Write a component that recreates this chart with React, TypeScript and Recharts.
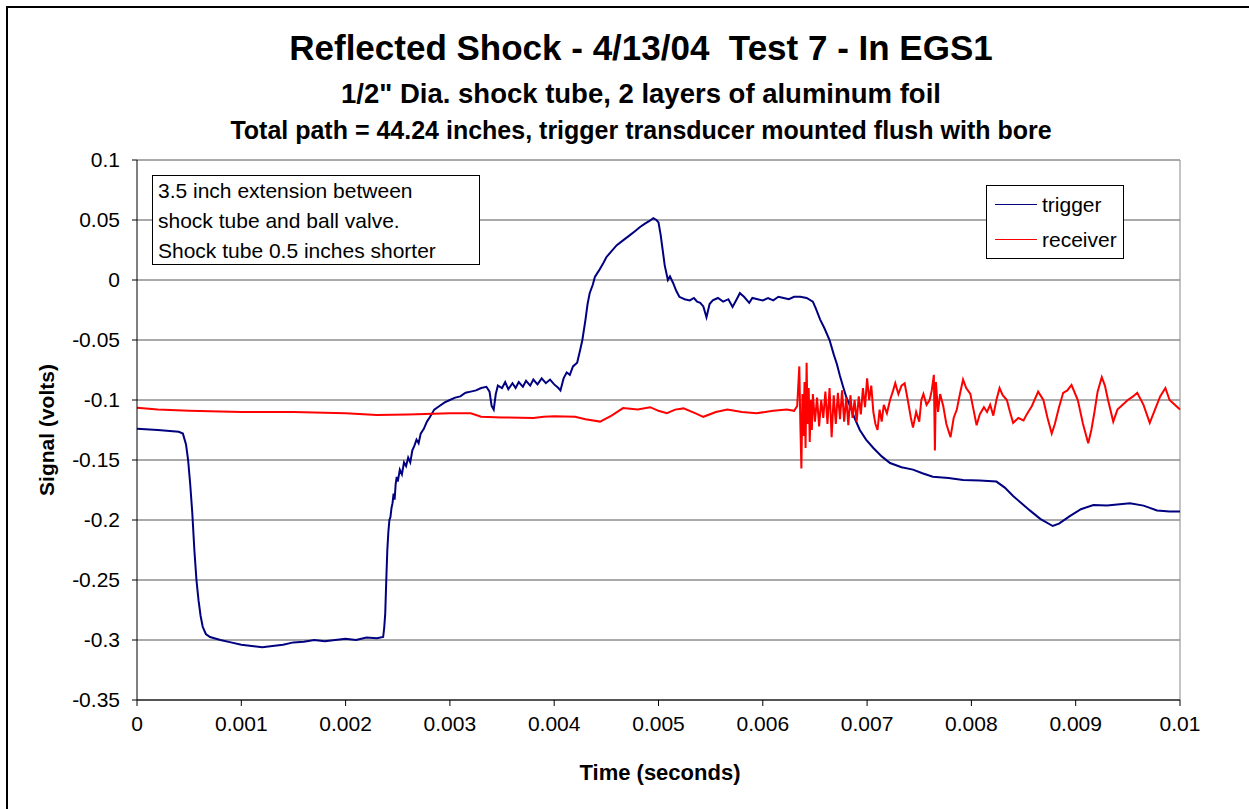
import React from 'react';
import { LineChart, Line, XAxis, YAxis, CartesianGrid, ReferenceLine } from 'recharts';

// [time (s), signal (V)]
const triggerPoints: [number, number][] = [
  [0, -0.124], [0.0002, -0.125], [0.0004, -0.1265], [0.00044, -0.128], [0.00047, -0.137],
  [0.00049, -0.15], [0.00051, -0.17], [0.00053, -0.194], [0.00055, -0.225], [0.00057, -0.25],
  [0.00059, -0.267], [0.00061, -0.28], [0.00063, -0.289], [0.00066, -0.295], [0.0007, -0.2975],
  [0.0008, -0.3], [0.0009, -0.302], [0.001, -0.304], [0.0011, -0.305], [0.0012, -0.306],
  [0.0013, -0.305], [0.0014, -0.304], [0.0015, -0.302], [0.0016, -0.3015], [0.0017, -0.3],
  [0.0018, -0.301], [0.0019, -0.3], [0.002, -0.299], [0.0021, -0.3], [0.0022, -0.298],
  [0.0023, -0.2985], [0.00236, -0.2975], [0.00237, -0.29], [0.00238, -0.278], [0.00239, -0.25],
  [0.0024, -0.225], [0.00241, -0.21], [0.00242, -0.2], [0.00243, -0.1975], [0.00244, -0.19],
  [0.00245, -0.186], [0.00246, -0.178], [0.00247, -0.183], [0.00248, -0.17], [0.00249, -0.164],
  [0.0025, -0.168], [0.00252, -0.158], [0.00254, -0.162], [0.00256, -0.152], [0.00258, -0.155],
  [0.0026, -0.148], [0.00262, -0.152], [0.00264, -0.142], [0.00266, -0.138], [0.00268, -0.133],
  [0.0027, -0.136], [0.00272, -0.128], [0.00275, -0.124], [0.00278, -0.118], [0.00281, -0.114],
  [0.00285, -0.108], [0.0029, -0.105], [0.00295, -0.102], [0.003, -0.1], [0.00305, -0.098],
  [0.0031, -0.097], [0.00315, -0.094], [0.0032, -0.093], [0.00325, -0.092], [0.0033, -0.09],
  [0.00335, -0.089], [0.00338, -0.093], [0.0034, -0.105], [0.00342, -0.108], [0.00344, -0.095],
  [0.00346, -0.088], [0.0035, -0.09], [0.00353, -0.085], [0.00356, -0.091], [0.0036, -0.086],
  [0.00363, -0.09], [0.00366, -0.085], [0.0037, -0.089], [0.00373, -0.084], [0.00377, -0.088],
  [0.0038, -0.083], [0.00384, -0.087], [0.00388, -0.082], [0.00392, -0.086], [0.00396, -0.083],
  [0.004, -0.087], [0.00404, -0.09], [0.00406, -0.092], [0.00409, -0.082], [0.00412, -0.077],
  [0.00415, -0.079], [0.00418, -0.072], [0.00422, -0.069], [0.00425, -0.058], [0.00427, -0.05],
  [0.0043, -0.033], [0.00432, -0.02], [0.00434, -0.011], [0.00437, -0.004], [0.00439, 0.0025],
  [0.00443, 0.008], [0.00447, 0.014], [0.0045, 0.019], [0.00455, 0.024], [0.0046, 0.029],
  [0.00466, 0.033], [0.00472, 0.037], [0.00478, 0.041], [0.00482, 0.044], [0.00487, 0.047],
  [0.00491, 0.049], [0.00495, 0.0515], [0.00498, 0.05], [0.005, 0.048], [0.00502, 0.038],
  [0.00504, 0.025], [0.00506, 0.012], [0.00509, 0], [0.00511, 0.003], [0.00514, -0.0025],
  [0.00517, -0.009], [0.0052, -0.014], [0.00525, -0.016], [0.0053, -0.017], [0.00534, -0.015],
  [0.00537, -0.018], [0.0054, -0.019], [0.00543, -0.022], [0.00546, -0.031], [0.00549, -0.02],
  [0.00552, -0.017], [0.00557, -0.015], [0.00562, -0.018], [0.00567, -0.016], [0.00571, -0.0225],
  [0.00575, -0.016], [0.00578, -0.011], [0.00582, -0.014], [0.00587, -0.019], [0.0059, -0.015],
  [0.00595, -0.016], [0.006, -0.017], [0.00605, -0.015], [0.0061, -0.017], [0.00615, -0.014],
  [0.0062, -0.015], [0.00625, -0.016], [0.0063, -0.014], [0.00636, -0.014], [0.00642, -0.015],
  [0.00648, -0.018], [0.00651, -0.024], [0.00655, -0.033], [0.00659, -0.04], [0.00664, -0.05],
  [0.00668, -0.062], [0.00671, -0.07], [0.00674, -0.08], [0.00677, -0.089], [0.0068, -0.0975],
  [0.00684, -0.106], [0.00688, -0.115], [0.00693, -0.125], [0.00699, -0.133], [0.00706, -0.14],
  [0.00714, -0.147], [0.00722, -0.1525], [0.00733, -0.156], [0.00744, -0.158], [0.00753, -0.161],
  [0.00763, -0.164], [0.00778, -0.165], [0.00792, -0.1667], [0.00808, -0.167], [0.00824, -0.168],
  [0.00832, -0.173], [0.0084, -0.18], [0.00848, -0.186], [0.00856, -0.192], [0.00866, -0.199],
  [0.00878, -0.205], [0.00884, -0.203], [0.00894, -0.197], [0.00905, -0.191], [0.00917, -0.1875],
  [0.0093, -0.188], [0.00952, -0.186], [0.00965, -0.188], [0.00978, -0.192], [0.0099, -0.193],
  [0.01, -0.193],
];

const receiverPoints: [number, number][] = [
  [0, -0.1065], [0.0002, -0.108], [0.0005, -0.109], [0.0008, -0.1095], [0.001, -0.11],
  [0.0015, -0.11], [0.002, -0.111], [0.0023, -0.1125], [0.0026, -0.112], [0.003, -0.111],
  [0.0032, -0.111], [0.0033, -0.114], [0.0035, -0.1145], [0.0038, -0.115], [0.0039, -0.114],
  [0.004, -0.1135], [0.0042, -0.114], [0.0043, -0.116], [0.00444, -0.118], [0.00455, -0.113],
  [0.00466, -0.1067], [0.0048, -0.108], [0.00492, -0.106], [0.005, -0.109], [0.00508, -0.111],
  [0.00516, -0.108], [0.00524, -0.107], [0.00535, -0.111], [0.00543, -0.114], [0.00555, -0.11],
  [0.00566, -0.108], [0.0058, -0.11], [0.00594, -0.111], [0.0061, -0.109], [0.00623, -0.108],
  [0.0063, -0.109], [0.00633, -0.105], [0.00635, -0.072], [0.00636, -0.12], [0.00637, -0.157],
  [0.00638, -0.095], [0.00639, -0.13], [0.0064, -0.085], [0.00641, -0.14], [0.00642, -0.069],
  [0.00643, -0.12], [0.00644, -0.09], [0.00645, -0.135], [0.00646, -0.1], [0.00647, -0.125],
  [0.00648, -0.095], [0.0065, -0.118], [0.00652, -0.098], [0.00654, -0.122], [0.00656, -0.1],
  [0.00658, -0.115], [0.0066, -0.093], [0.00662, -0.12], [0.00664, -0.09], [0.00666, -0.131],
  [0.00668, -0.096], [0.0067, -0.12], [0.00672, -0.094], [0.00674, -0.116], [0.00676, -0.092],
  [0.00678, -0.118], [0.0068, -0.098], [0.00682, -0.121], [0.00684, -0.096], [0.00686, -0.115],
  [0.00688, -0.1], [0.0069, -0.118], [0.00692, -0.097], [0.00694, -0.112], [0.00696, -0.09],
  [0.00698, -0.106], [0.007, -0.082], [0.00702, -0.1], [0.00704, -0.088], [0.00706, -0.11],
  [0.00708, -0.12], [0.0071, -0.125], [0.00712, -0.108], [0.00714, -0.118], [0.00716, -0.104],
  [0.00719, -0.111], [0.00722, -0.1], [0.00725, -0.092], [0.00727, -0.086], [0.0073, -0.095],
  [0.00733, -0.088], [0.00736, -0.086], [0.00739, -0.1], [0.00742, -0.115], [0.00744, -0.123],
  [0.00747, -0.11], [0.0075, -0.118], [0.00752, -0.1], [0.00754, -0.095], [0.00757, -0.104],
  [0.0076, -0.1], [0.00762, -0.092], [0.00764, -0.079], [0.00765, -0.142], [0.00766, -0.085],
  [0.00768, -0.11], [0.0077, -0.095], [0.00773, -0.105], [0.00776, -0.12], [0.0078, -0.131],
  [0.00783, -0.115], [0.00786, -0.108], [0.00789, -0.095], [0.00792, -0.083], [0.00795, -0.09],
  [0.00799, -0.095], [0.00802, -0.108], [0.00805, -0.121], [0.00808, -0.112], [0.00812, -0.106],
  [0.00815, -0.11], [0.00818, -0.104], [0.00821, -0.113], [0.00824, -0.1], [0.00827, -0.09],
  [0.0083, -0.096], [0.00834, -0.1], [0.00837, -0.11], [0.0084, -0.119], [0.00845, -0.115],
  [0.0085, -0.117], [0.00853, -0.112], [0.00858, -0.105], [0.00864, -0.093], [0.00869, -0.1],
  [0.00873, -0.115], [0.00877, -0.128], [0.0088, -0.12], [0.00884, -0.106], [0.00888, -0.094],
  [0.00892, -0.092], [0.00896, -0.0875], [0.00902, -0.1], [0.00907, -0.12], [0.00912, -0.136],
  [0.00915, -0.125], [0.00918, -0.11], [0.00921, -0.093], [0.00925, -0.081], [0.00928, -0.088],
  [0.00931, -0.1], [0.00936, -0.118], [0.0094, -0.108], [0.00945, -0.104], [0.0095, -0.1],
  [0.00955, -0.097], [0.00959, -0.094], [0.00965, -0.104], [0.00971, -0.119], [0.00976, -0.108],
  [0.00981, -0.097], [0.00986, -0.09], [0.0099, -0.1], [0.00995, -0.104], [0.01, -0.108],
];

const xTicks = [0, 0.001, 0.002, 0.003, 0.004, 0.005, 0.006, 0.007, 0.008, 0.009, 0.01];
const yTicks = [0.1, 0.05, 0, -0.05, -0.1, -0.15, -0.2, -0.25, -0.3, -0.35];

const titleLines = [
  'Reflected Shock - 4/13/04  Test 7 - In EGS1',
  '1/2" Dia. shock tube, 2 layers of aluminum foil',
  'Total path = 44.24 inches, trigger transducer mounted flush with bore',
];
const noteLines = [
  '3.5 inch extension between',
  'shock tube and ball valve.',
  'Shock tube 0.5 inches shorter',
];
const seriesNames = ['trigger', 'receiver'];

const FONT = '"Liberation Sans", Arial, sans-serif';
const TRIGGER = '#000080';
const RECEIVER = '#ff0000';

const toRows = (pts: [number, number][]) => pts.map(([t, v]) => ({ t, v }));

const titleStyle = [
  { top: 30, fontSize: 35 },
  { top: 76, fontSize: 27.5 },
  { top: 112, fontSize: 25 },
];

export default function App() {
  const trigger = toRows(triggerPoints);
  const receiver = toRows(receiverPoints);
  const colors = [TRIGGER, RECEIVER];

  return (
    <div style={{ position: 'absolute', left: 0, top: 0, width: 1249, height: 809, background: '#fff', overflow: 'hidden', fontFamily: FONT }}>
      <div style={{ position: 'absolute', left: 6, top: 6, width: 1300, height: 900, borderLeft: '2px solid #000', borderTop: '2px solid #000' }} />

      {titleLines.map((line, i) => (
        <div
          key={i}
          style={{
            position: 'absolute', left: 0, width: 1282, textAlign: 'center', fontWeight: 'bold', whiteSpace: 'pre',
            top: titleStyle[i].top, fontSize: titleStyle[i].fontSize, lineHeight: '36px',
          }}
        >
          {line}
        </div>
      ))}

      <div style={{ position: 'absolute', left: 0, top: 0 }}>
        <LineChart width={1249} height={809} margin={{ top: 160, right: 69, bottom: 79, left: 71 }}>
          <CartesianGrid vertical={false} stroke="#555" strokeWidth={1} />
          <XAxis
            dataKey="t" type="number" domain={[0, 0.01]} ticks={xTicks} allowDuplicatedCategory={false}
            tickFormatter={(v: number) => String(v)} tick={{ fontSize: 21, fill: '#000', fontFamily: FONT }}
            stroke="#000" tickSize={6} tickMargin={10} height={30}
          />
          <YAxis
            type="number" domain={[-0.35, 0.1]} ticks={yTicks} interval={0}
            tickFormatter={(v: number) => String(v)} tick={{ fontSize: 21, fill: '#000', fontFamily: FONT }}
            stroke="#000" tickSize={5} tickMargin={12} width={66}
          />
          <ReferenceLine x={0.01} stroke="#888" strokeWidth={1} />
          <Line data={trigger} dataKey="v" name="trigger" stroke={TRIGGER} strokeWidth={2} dot={false} isAnimationActive={false} />
          <Line data={receiver} dataKey="v" name="receiver" stroke={RECEIVER} strokeWidth={2} dot={false} isAnimationActive={false} />
        </LineChart>
      </div>

      <div style={{ position: 'absolute', left: 560, top: 758, width: 200, textAlign: 'center', fontWeight: 'bold', fontSize: 22, lineHeight: '30px' }}>
        Time (seconds)
      </div>
      <div
        style={{
          position: 'absolute', left: 47 - 100, top: 430 - 15, width: 200, height: 30, textAlign: 'center',
          fontWeight: 'bold', fontSize: 21, lineHeight: '30px', transform: 'rotate(-90deg)',
        }}
      >
        Signal (volts)
      </div>

      <div
        style={{
          position: 'absolute', left: 152, top: 175, width: 328, height: 90, border: '1px solid #000', background: '#fff',
          fontSize: 21, lineHeight: '30px', paddingLeft: 5, boxSizing: 'border-box', whiteSpace: 'nowrap',
        }}
      >
        {noteLines.map((l, i) => <div key={i}>{l}</div>)}
      </div>

      <div
        style={{
          position: 'absolute', left: 986, top: 185, width: 138, height: 74, border: '1px solid #000', background: '#fff',
          fontSize: 21, boxSizing: 'border-box', paddingTop: 1,
        }}
      >
        {seriesNames.map((n, i) => (
          <div key={n} style={{ display: 'flex', alignItems: 'center', height: 35 }}>
            <span style={{ display: 'inline-block', width: 42, height: 0, borderTop: `1px solid ${colors[i]}`, marginLeft: 8, marginRight: 5 }} />
            <span>{n}</span>
          </div>
        ))}
      </div>
    </div>
  );
}
